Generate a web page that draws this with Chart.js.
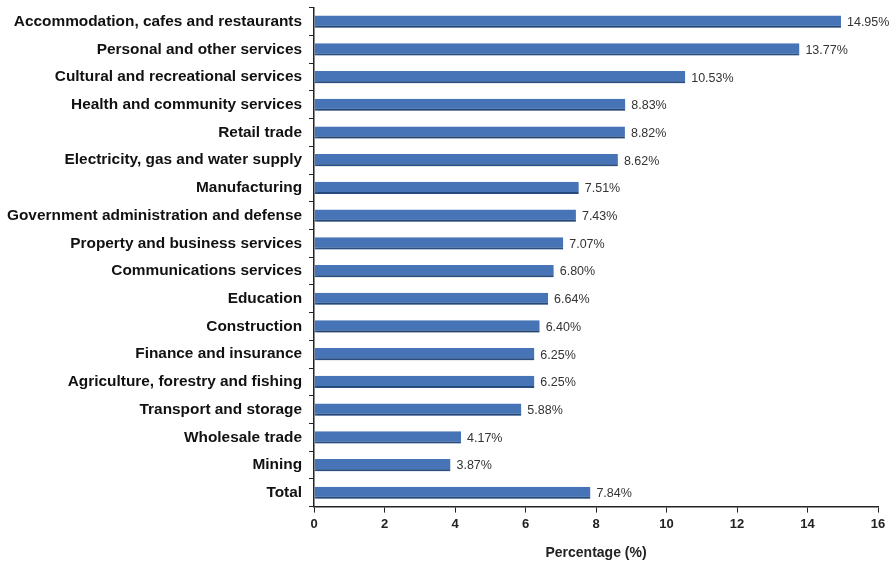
<!DOCTYPE html>
<html>
<head>
<meta charset="utf-8">
<script src="https://cdn.jsdelivr.net/npm/chart.js@4/dist/chart.umd.min.js"></script>
<style>
  html, body { margin: 0; padding: 0; background: #fff; }
  #wrap { width: 896px; height: 563px; }
</style>
</head>
<body>
<div id="wrap"><canvas id="industryChart"></canvas></div>
<script>
// industries, top to bottom
var industries = [
    'Accommodation, cafes and restaurants',
    'Personal and other services',
    'Cultural and recreational services',
    'Health and community services',
    'Retail trade',
    'Electricity, gas and water supply',
    'Manufacturing',
    'Government administration and defense',
    'Property and business services',
    'Communications services',
    'Education',
    'Construction',
    'Finance and insurance',
    'Agriculture, forestry and fishing',
    'Transport and storage',
    'Wholesale trade',
    'Mining',
    'Total'
];
var percentages = [14.95, 13.77, 10.53, 8.83, 8.82, 8.62, 7.51, 7.43, 7.07, 6.80, 6.64, 6.40, 6.25, 6.25, 5.88, 4.17, 3.87, 7.84];
var xTicks = [0, 2, 4, 6, 8, 10, 12, 14, 16];

// soft drop shadow under the bars
var barShadow = {
    id: 'barShadow',
    beforeDatasetsDraw: function(chart) {
        var ctx = chart.ctx;
        ctx.save();
        ctx.shadowColor = 'rgba(0,0,0,0.3)';
        ctx.shadowBlur = 3;
        ctx.shadowOffsetX = 1;
        ctx.shadowOffsetY = 2;
    },
    afterDatasetsDraw: function(chart) {
        chart.ctx.restore();
    }
};

// value text at the end of every bar
var valueLabels = {
    id: 'valueLabels',
    afterDraw: function(chart) {
        var ctx = chart.ctx;
        var meta = chart.getDatasetMeta(0);
        ctx.save();
        ctx.font = '12.5px "Liberation Sans", Arial, sans-serif';
        ctx.fillStyle = '#333';
        ctx.textAlign = 'left';
        ctx.textBaseline = 'middle';
        meta.data.forEach(function(bar, i) {
            ctx.fillText(percentages[i].toFixed(2) + '%', bar.x + 6, bar.y + 1);
        });
        ctx.restore();
    }
};

var ctx = document.getElementById('industryChart').getContext('2d');
var industryChart = new Chart(ctx, {
    type: 'bar',
    data: {
        labels: industries,
        datasets: [{
            data: percentages,
            backgroundColor: '#4674b6',
            borderColor: '#2f5b98',
            borderWidth: { top: 0, right: 0, bottom: 2, left: 0 },
            borderSkipped: false,
            categoryPercentage: 1.0,
            barPercentage: 0.44
        }]
    },
    options: {
        indexAxis: 'y',
        responsive: true,
        maintainAspectRatio: false,
        animation: false,
        layout: { padding: { top: 0, right: 18, left: 0, bottom: 1 } },
        plugins: {
            legend: { display: false },
            tooltip: { enabled: false }
        },
        scales: {
            x: {
                min: 0,
                max: 16,
                afterBuildTicks: function(axis) {
                    axis.ticks = xTicks.map(function(v) { return { value: v }; });
                },
                grid: {
                    drawOnChartArea: false,
                    drawTicks: true,
                    tickLength: 6,
                    color: '#222'
                },
                border: { color: '#222', width: 1.5 },
                ticks: {
                    color: '#222',
                    padding: 4,
                    font: { family: '"Liberation Sans", Arial, sans-serif', size: 13, weight: 'bold' }
                },
                title: {
                    display: true,
                    text: 'Percentage (%)',
                    color: '#222',
                    padding: { top: 9, bottom: 0 },
                    font: { family: '"Liberation Sans", Arial, sans-serif', size: 14, weight: 'bold' }
                }
            },
            y: {
                offset: true,
                grid: {
                    offset: true,
                    drawOnChartArea: false,
                    drawTicks: true,
                    tickLength: 5,
                    color: '#222'
                },
                border: { color: '#222', width: 1.5 },
                ticks: {
                    color: '#111',
                    padding: 7,
                    autoSkip: false,
                    font: { family: '"Liberation Sans", Arial, sans-serif', size: 15.4, weight: 'bold', lineHeight: 0.1 }
                }
            }
        }
    },
    plugins: [barShadow, valueLabels]
});
</script>
</body>
</html>
